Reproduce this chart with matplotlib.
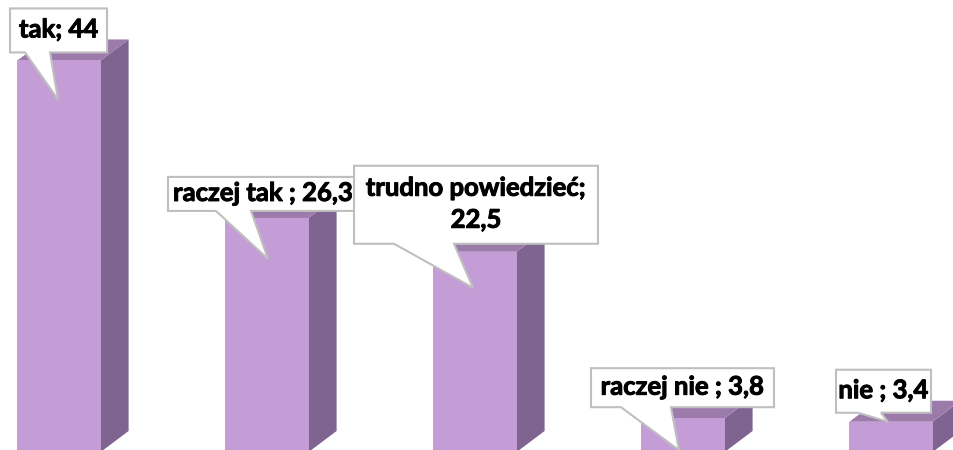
import matplotlib.pyplot as plt
import matplotlib.patheffects as pe
from matplotlib.patches import Polygon, Rectangle
from matplotlib.transforms import IdentityTransform

# data
categories = ["tak", "raczej tak ", "trudno powiedzieć", "raczej nie ", "nie "]
values = [44, 26.3, 22.5, 3.8, 3.4]
labels = ["tak; 44", "raczej tak ; 26,3", "trudno powiedzieć;\n22,5",
          "raczej nie ; 3,8", "nie ; 3,4"]

# callout layout, pixels relative to (bar centre, bar top), y down:
# box left, right, top, bottom, pointer base x1, x2, tip dx, tip dy
callouts = [
    (-49, 48, -52, -8, -34, -9, -1, 39),
    (-99, 91, -41, -7, -51, -16, 1, 41),
    (-121, 123, -86, -8, -81, -21, -2, 36),
    (-92, 91, -50, -11, -62, -12, -4, 32),
    (-55, 40, -52, -9, -33, -10, -3, 0),
]

front_col = "#C59DD6"
top_col = "#9C7BAB"
side_col = "#7F6390"

W, H = 954, 450
fig = plt.figure(figsize=(W / 100, H / 100), dpi=100)
ax = fig.add_axes([0, 0, 1, 1])
ax.axis("off")
ax.set_xlim(-0.2837, 4.3029)
ax.set_ylim(0.225, 50.79)

bar_w = 0.40
dx = 28 / 208          # depth in x data units
dy = 21 / 8.9          # depth in y data units

for i, v in enumerate(values):
    x0 = i - bar_w / 2
    x1 = i + bar_w / 2
    ax.add_patch(Polygon([(x1, 0), (x1 + dx, dy), (x1 + dx, v + dy), (x1, v)],
                         closed=True, facecolor=side_col, edgecolor="none"))
    ax.add_patch(Polygon([(x0, v), (x1, v), (x1 + dx, v + dy), (x0 + dx, v + dy)],
                         closed=True, facecolor=top_col, edgecolor="none"))
    ax.add_patch(Rectangle((x0, 0), bar_w, v, facecolor=front_col, edgecolor="none"))

fig.canvas.draw()
ident = IdentityTransform()
for i, (v, lab, c) in enumerate(zip(values, labels, callouts)):
    cx, ty = ax.transData.transform((i, v))
    bl, br, bt, bb, p1, p2, tx, tyo = c
    pts = [(cx + bl, ty - bt), (cx + br, ty - bt), (cx + br, ty - bb),
           (cx + p2, ty - bb), (cx + tx, ty - tyo), (cx + p1, ty - bb),
           (cx + bl, ty - bb)]
    ax.add_patch(Polygon(pts, closed=True, facecolor="white", edgecolor="#BFBFBF",
                         linewidth=1.5, transform=ident, clip_on=False, zorder=5))
    ax.text(cx + (bl + br) / 2, ty - (bt + bb) / 2 + 1, lab, transform=ident,
            ha="center", va="center", fontsize=18.5, fontweight="bold",
            family="Lato", linespacing=1.4, zorder=6, clip_on=False,
            path_effects=[pe.withStroke(linewidth=0.7, foreground="black")])

fig.savefig("out.png", dpi=100)
